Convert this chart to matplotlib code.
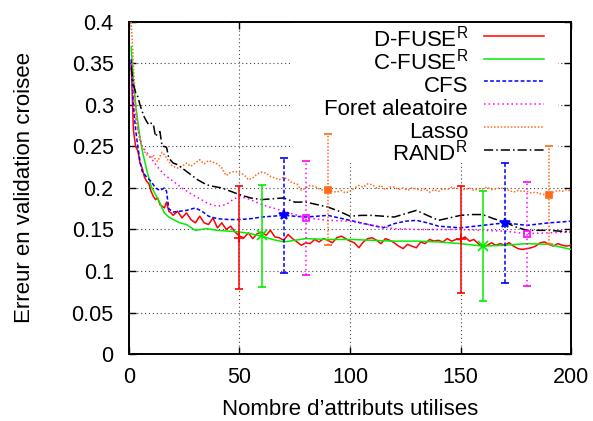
import numpy as np
import matplotlib
matplotlib.use('Agg')
import matplotlib.pyplot as plt
from matplotlib.ticker import FuncFormatter
from matplotlib.patches import Rectangle

plt.rcParams['font.family'] = ['Liberation Sans', 'DejaVu Sans']
plt.rcParams['mathtext.fontset'] = 'custom'
plt.rcParams['mathtext.rm'] = 'Liberation Sans'
plt.rcParams['mathtext.it'] = 'Liberation Sans'

# D-FUSE^R (noisy red curve)
dfuse_x = list(range(1, 21)) + list(range(22, 201, 2))
dfuse_y = [0.35, 0.27, 0.25, 0.245, 0.23, 0.224, 0.213, 0.208, 0.205, 0.196,
           0.19, 0.186, 0.188, 0.18, 0.178, 0.176, 0.183, 0.172, 0.17, 0.167,
           0.172, 0.164, 0.17, 0.162, 0.158, 0.166, 0.158, 0.156, 0.164, 0.152,
           0.158, 0.15, 0.154, 0.147, 0.142, 0.14, 0.146, 0.139, 0.145, 0.147,
           0.143, 0.149, 0.141, 0.14, 0.137, 0.144, 0.139, 0.135, 0.131, 0.134,
           0.133, 0.138, 0.135, 0.139, 0.137, 0.134, 0.14, 0.142, 0.139, 0.136,
           0.134, 0.128, 0.135, 0.139, 0.14, 0.137, 0.133, 0.139, 0.137, 0.134,
           0.13, 0.127, 0.132, 0.13, 0.128, 0.135, 0.133, 0.138, 0.136, 0.137,
           0.135, 0.139, 0.136, 0.138, 0.138, 0.141, 0.136, 0.138, 0.133, 0.129,
           0.131, 0.134, 0.131, 0.133, 0.131, 0.134, 0.13, 0.127, 0.126, 0.127,
           0.128, 0.13, 0.134, 0.135, 0.132, 0.13, 0.133, 0.131, 0.13, 0.131]

# C-FUSE^R
cfuse_x = [1, 2, 3, 4, 5, 6, 8, 10, 12, 14, 16, 18, 20, 23, 26, 30, 35, 40, 45, 50,
           55, 60, 65, 70, 75, 80, 90, 100, 110, 120, 130, 140, 150, 160, 170, 180, 190, 200]
cfuse_y = [0.37, 0.33, 0.30, 0.28, 0.26, 0.245, 0.222, 0.202, 0.192, 0.182, 0.17, 0.165,
           0.162, 0.158, 0.156, 0.149, 0.151, 0.149, 0.148, 0.147, 0.145, 0.142, 0.138,
           0.135, 0.137, 0.139, 0.138, 0.138, 0.137, 0.136, 0.136, 0.135, 0.133, 0.13,
           0.131, 0.133, 0.132, 0.126]

# CFS
cfs_x = [1, 2, 3, 4, 5, 6, 8, 10, 12, 14, 16, 17, 18, 20, 23, 26, 30, 33, 36, 40, 45, 50,
         55, 60, 65, 70, 75, 80, 90, 100, 105, 110, 115, 120, 125, 130, 135, 140, 145, 150,
         160, 170, 180, 190, 200]
cfs_y = [0.355, 0.3, 0.27, 0.25, 0.232, 0.22, 0.213, 0.208, 0.2, 0.197, 0.2, 0.196, 0.175,
         0.171, 0.172, 0.173, 0.176, 0.172, 0.166, 0.163, 0.162, 0.162, 0.163, 0.165, 0.166,
         0.167, 0.166, 0.165, 0.167, 0.161, 0.158, 0.155, 0.152, 0.157, 0.16, 0.161, 0.158,
         0.154, 0.153, 0.152, 0.155, 0.158, 0.155, 0.158, 0.16]

# Foret aleatoire
rf_x = [1, 2, 3, 4, 6, 8, 10, 13, 16, 20, 24, 28, 32, 36, 40, 44, 47, 50, 55, 60, 65, 70,
        75, 80, 90, 100, 110, 120, 130, 140, 150, 160, 170, 180, 190, 200]
rf_y = [0.35, 0.31, 0.285, 0.27, 0.25, 0.243, 0.236, 0.225, 0.216, 0.208, 0.2, 0.193,
        0.187, 0.181, 0.178, 0.18, 0.186, 0.19, 0.186, 0.18, 0.176, 0.172, 0.168, 0.164,
        0.161, 0.16, 0.155, 0.151, 0.15, 0.15, 0.15, 0.149, 0.148, 0.145, 0.146, 0.147]

# Lasso (noisy)
lasso_x = list(range(1, 21)) + list(range(22, 201, 2))
lasso_y = [0.4, 0.35, 0.3, 0.27, 0.256, 0.25, 0.244, 0.24, 0.238, 0.236,
           0.24, 0.234, 0.232, 0.238, 0.243, 0.24, 0.236, 0.232, 0.228, 0.226,
           0.224, 0.226, 0.23, 0.226, 0.23, 0.234, 0.229, 0.233, 0.231, 0.229,
           0.224, 0.215, 0.219, 0.22, 0.218, 0.216, 0.21, 0.212, 0.217, 0.219,
           0.218, 0.214, 0.212, 0.21, 0.213, 0.21, 0.206, 0.205, 0.197, 0.2,
           0.203, 0.202, 0.199, 0.197, 0.198, 0.196, 0.195, 0.197, 0.194, 0.196,
           0.2, 0.203, 0.201, 0.205, 0.204, 0.2, 0.203, 0.198, 0.201, 0.201,
           0.198, 0.2, 0.197, 0.2, 0.199, 0.197, 0.199, 0.195, 0.198, 0.196,
           0.199, 0.198, 0.201, 0.199, 0.2, 0.198, 0.2, 0.197, 0.199, 0.199,
           0.201, 0.198, 0.199, 0.2, 0.199, 0.197, 0.195, 0.197, 0.196, 0.196,
           0.194, 0.195, 0.193, 0.192, 0.192, 0.195, 0.197, 0.196, 0.198, 0.196]

# RAND^R
rand_x = [1, 2, 3, 4, 5, 6, 7, 8, 9, 10, 11, 12, 13, 14, 15, 16, 17, 18, 20, 22, 25, 28,
          31, 35, 38, 42, 46, 50, 55, 60, 65, 70, 75, 80, 85, 90, 95, 100, 105, 110, 115,
          120, 125, 130, 135, 140, 145, 150, 155, 160, 165, 170, 175, 180, 185, 190, 195, 200]
rand_y = [0.345, 0.325, 0.315, 0.31, 0.3, 0.292, 0.285, 0.28, 0.276, 0.278, 0.277, 0.262,
          0.266, 0.268, 0.25, 0.25, 0.249, 0.236, 0.23, 0.228, 0.222, 0.216, 0.21, 0.204,
          0.202, 0.2, 0.196, 0.192, 0.188, 0.186, 0.187, 0.188, 0.183, 0.183, 0.18, 0.177,
          0.172, 0.166, 0.167, 0.167, 0.166, 0.165, 0.169, 0.173, 0.167, 0.161, 0.164,
          0.167, 0.168, 0.168, 0.163, 0.159, 0.153, 0.149, 0.149, 0.149, 0.148, 0.147]

# error bars: x, centre, low, high
dfuse_eb = ([50, 150], [0.14, 0.138], [0.078, 0.074], [0.202, 0.202])
cfuse_eb = ([60, 160], [0.143, 0.13], [0.081, 0.064], [0.204, 0.196])
cfs_eb = ([70, 170], [0.167, 0.158], [0.098, 0.086], [0.236, 0.23])
rf_eb = ([80, 180], [0.164, 0.145], [0.095, 0.082], [0.232, 0.207])
lasso_eb = ([90, 190], [0.197, 0.191], [0.131, 0.133], [0.265, 0.25])

ORANGE = '#ff6a1a'

fig = plt.figure(figsize=(5.93, 4.21), dpi=100)
ax = fig.add_axes([0.2175, 0.159, 0.7455, 0.789])

series = [
    ('D-FUSE$^{\\mathrm{R}}$', dfuse_x, dfuse_y, 'red', '-', dfuse_eb, '+'),
    ('C-FUSE$^{\\mathrm{R}}$', cfuse_x, cfuse_y, '#00ee00', '-', cfuse_eb, 'x'),
    ('CFS', cfs_x, cfs_y, 'blue', (0, (2.5, 1.5)), cfs_eb, '*'),
    ('Foret aleatoire', rf_x, rf_y, 'magenta', (0, (1, 2)), rf_eb, 's'),
    ('Lasso', lasso_x, lasso_y, ORANGE, (0, (1, 1.2)), lasso_eb, 's'),
    ('RAND$^{\\mathrm{R}}$', rand_x, rand_y, 'black', (0, (6, 2, 1, 2)), None, None),
]

for label, xs, ys, col, ls, eb, mk in series:
    ax.plot(xs, ys, color=col, ls=ls, lw=1.1, label=label, zorder=3)
    if eb is not None:
        ex, ey, lo, hi = eb
        ey = np.array(ey)
        yerr = [ey - np.array(lo), np.array(hi) - ey]
        mfc = 'none' if label.startswith('Foret') else col
        ms = 5 if mk == 's' else 7
        _, caps, bars = ax.errorbar(ex, ey, yerr=yerr, fmt=mk, color=col, ms=ms,
                                    mfc=mfc, mew=1.2, elinewidth=1.1, capsize=3,
                                    capthick=1.1, zorder=4)
        for b in bars:
            b.set_linestyle(ls)

ax.set_xlim(0, 200)
ax.set_ylim(0, 0.4)
ax.set_xticks(np.arange(0, 201, 50))
ax.set_yticks(np.arange(0, 0.401, 0.05))
ax.yaxis.set_major_formatter(FuncFormatter(lambda v, p: '%g' % round(v, 2)))
ax.tick_params(direction='in', top=True, right=True, length=5, width=1, labelsize=15.5)
ax.tick_params(axis='x', pad=9)
ax.tick_params(axis='y', pad=11)
ax.grid(True, color='#444444', ls=(0, (1, 2.5)), lw=0.8)
ax.set_axisbelow(True)
for s in ax.spines.values():
    s.set_linewidth(1.4)

# the key area hides the grid (gnuplot style), curves stay on top
ax.add_patch(Rectangle((0.365, 0.575), 0.605, 0.425, transform=ax.transAxes,
                       facecolor='white', edgecolor='none', zorder=1))

ax.set_xlabel('Nombre d\u2019attributs utilises', fontsize=16, labelpad=8)
ax.set_ylabel('Erreur en validation croisee', fontsize=16, labelpad=26)

leg = ax.legend(loc='upper right', bbox_to_anchor=(0.939, 0.99), markerfirst=False,
                fontsize=16, frameon=False, handlelength=2.7, handleheight=1.5,
                handletextpad=0.72, labelspacing=-0.19, borderpad=0.0,
                borderaxespad=0.0)
leg.set_zorder(5)

fig.savefig('out.png', dpi=100)
